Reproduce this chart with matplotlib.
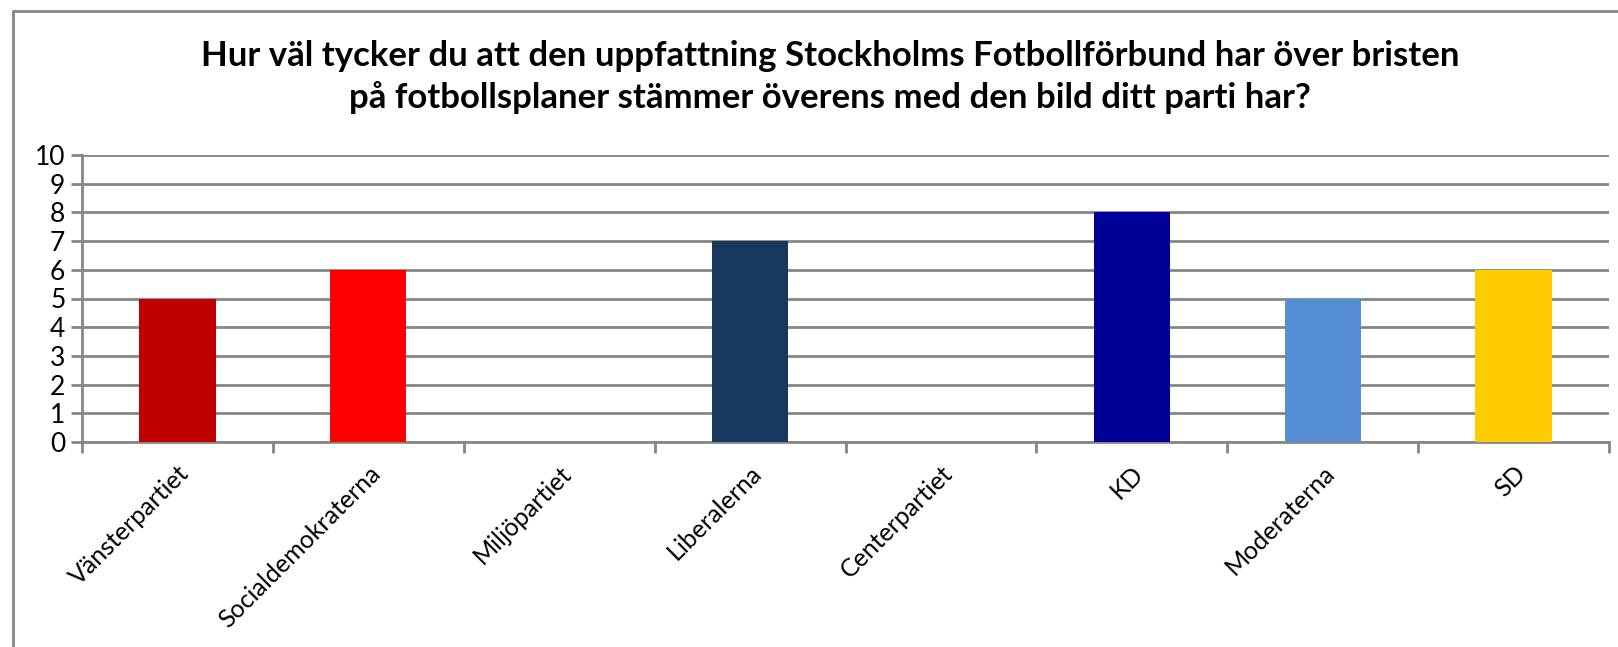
import numpy as np
import matplotlib.pyplot as plt
from matplotlib.patches import Rectangle

# Data
partier = ['Vänsterpartiet', 'Socialdemokraterna', 'Miljöpartiet', 'Liberalerna',
           'Centerpartiet', 'KD', 'Moderaterna', 'SD']
betyg = [5, 6, 0, 7, 0, 8, 5, 6]
farger = ['#C00000', '#FF0000', '#00B050', '#17375E', '#009933', '#000099', '#558ED5', '#FFCC00']

titel = ('Hur väl tycker du att den uppfattning Stockholms Fotbollförbund har över bristen\n'
         'på fotbollsplaner stämmer överens med den bild ditt parti har?')

plt.rcParams['font.family'] = ['Lato', 'DejaVu Sans']

fig = plt.figure(figsize=(16.18, 6.47), dpi=100)
ax = fig.add_axes([82 / 1618, 205 / 647, 1527 / 1618, 287 / 647])

x = np.arange(len(partier))
ax.bar(x, betyg, width=0.4, color=farger, zorder=3)

ax.set_xlim(-0.5, len(partier) - 0.5)
ax.set_ylim(0, 10)
ax.set_yticks(range(0, 11))
ax.yaxis.grid(True, color='#868686', linewidth=2, zorder=0)

# category ticks between the bars
ax.set_xticks(np.arange(-0.5, len(partier), 1))
ax.set_xticklabels([])
ax.set_xticks(x, minor=True)
ax.set_xticklabels(partier, minor=True, rotation=45, ha='right', va='top',
                   rotation_mode='anchor', fontsize=18)
ax.tick_params(axis='x', which='minor', length=0, pad=14)
ax.tick_params(axis='x', which='major', length=8, width=2, color='#868686')
ax.tick_params(axis='y', length=8, width=2, color='#868686', labelsize=19, pad=4)

for s in ['top', 'right']:
    ax.spines[s].set_visible(False)
for s in ['left', 'bottom']:
    ax.spines[s].set_color('#868686')
    ax.spines[s].set_linewidth(2)

fig.text(0.513, 1 - 77 / 647, titel, ha='center', va='center', fontsize=25,
         fontweight='bold', linespacing=1.35)

# chart border
fig.patches.append(Rectangle((13 / 1618, -0.1), 1.2, 1 - 11 / 647 + 0.1,
                             transform=fig.transFigure, fill=False,
                             edgecolor='#868686', linewidth=2))

fig.savefig('out.png', dpi=100)
